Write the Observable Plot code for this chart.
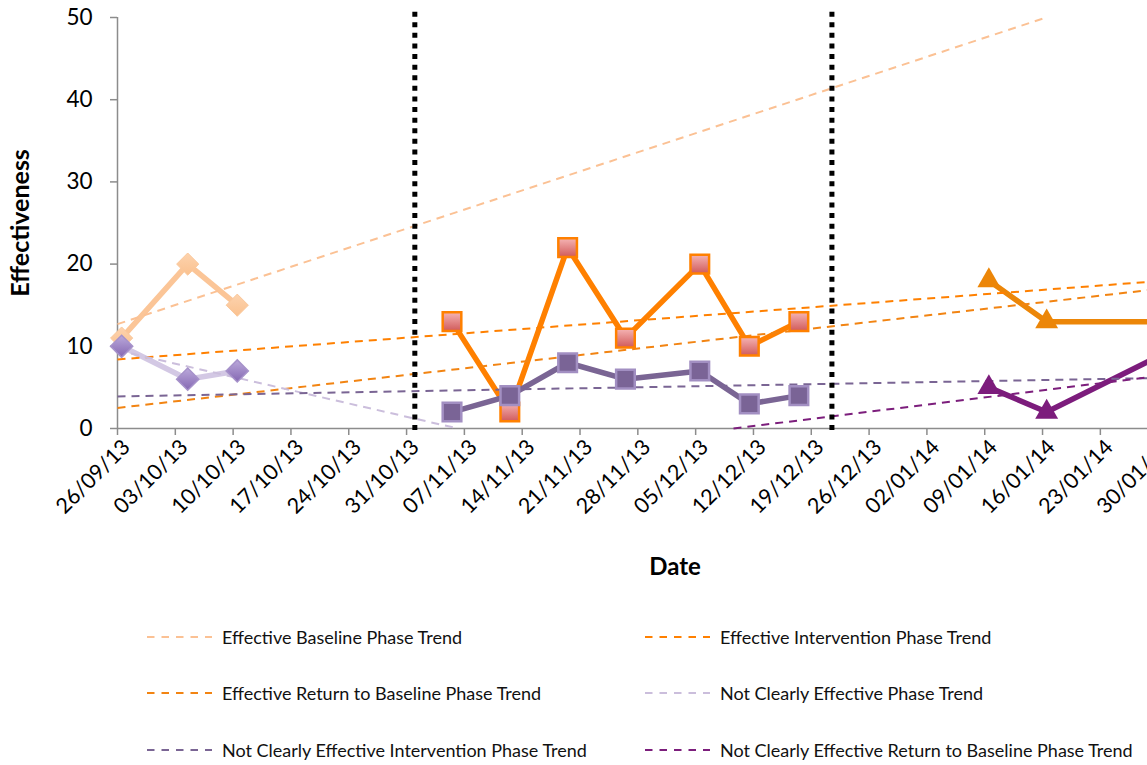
<!DOCTYPE html>
<html><head><meta charset="utf-8">
<script src="https://cdn.jsdelivr.net/npm/d3@7"></script>
<script src="https://cdn.jsdelivr.net/npm/@observablehq/plot@0.6"></script>
<style>
html,body{margin:0;padding:0;background:#fff;overflow:hidden;width:1147px;height:765px;}
#chart{position:absolute;left:0;top:0;width:1247px;}
#chart svg{max-width:none !important;}
.legend-item{position:absolute;display:flex;align-items:center;font-family:Lato, sans-serif;font-size:18px;color:#111;white-space:nowrap;height:20px;}
.legend-item svg{margin-right:10px;}
</style></head><body>
<div id="chart"></div>
<div id="legend"></div>
<script>
// ---- data ----
const baselineDates = ["2013-09-26", "2013-10-04", "2013-10-10"];
const effectiveBaseline = [11, 20, 15];
const notEffectiveBaseline = [10, 6, 7];

const interventionDates = ["2013-11-05", "2013-11-12", "2013-11-19", "2013-11-26", "2013-12-05", "2013-12-11", "2013-12-17"];
const effectiveIntervention = [13, 2, 22, 11, 20, 10, 13];
const notEffectiveIntervention = [2, 4, 8, 6, 7, 3, 4];

const returnDates = ["2014-01-09", "2014-01-16", "2014-01-30"];
const effectiveReturn = [18, 13, 13];
const notEffectiveReturn = [5, 2, 9];

const phaseChangeDates = ["2013-11-01T00:00Z", "2013-12-21T12:00Z"];

const trendNames = [
  "Effective Baseline Phase Trend",
  "Effective Intervention Phase Trend",
  "Effective Return to Baseline Phase Trend",
  "Not Clearly Effective Phase Trend",
  "Not Clearly Effective Intervention Phase Trend",
  "Not Clearly Effective Return to Baseline Phase Trend"
];
const trendColors = ["#FBC194", "#FF8000", "#F28412", "#CBBEDC", "#7A6594", "#7C1E7C"];
const trendStartDates = ["2013-09-26T00:00Z", "2013-09-26T00:00Z", "2013-09-26T00:00Z", "2013-09-26T00:00Z", "2013-09-26T00:00Z", "2013-12-09T14:00Z"];
const trendStartValues = [12.7, 8.4, 2.5, 9.5, 3.9, 0];
const trendEndDates = ["2014-01-16T10:00Z", "2014-02-08T00:00Z", "2014-02-08T00:00Z", "2013-11-06T05:00Z", "2014-02-08T00:00Z", "2014-02-08T00:00Z"];
const trendEndValues = [50, 18.6, 18.0, 0, 6.3, 7.5];

const xTickDates = ["2013-09-26","2013-10-03","2013-10-10","2013-10-17","2013-10-24","2013-10-31","2013-11-07","2013-11-14","2013-11-21","2013-11-28","2013-12-05","2013-12-12","2013-12-19","2013-12-26","2014-01-02","2014-01-09","2014-01-16","2014-01-23","2014-01-30","2014-02-06"];
const yTicks = [0, 10, 20, 30, 40, 50];

// ---- build ----
const noon = d => new Date(d + "T12:00:00Z");
const series = (dates, values) => dates.map((d, i) => ({date: noon(d), value: values[i]}));
const sEffBase = series(baselineDates, effectiveBaseline);
const sNotBase = series(baselineDates, notEffectiveBaseline);
const sEffInt = series(interventionDates, effectiveIntervention);
const sNotInt = series(interventionDates, notEffectiveIntervention);
const sEffRet = series(returnDates, effectiveReturn);
const sNotRet = series(returnDates, notEffectiveReturn);

const trends = trendNames.map((name, i) => ({
  name, color: trendColors[i],
  x1: new Date(trendStartDates[i]), y1: trendStartValues[i],
  x2: new Date(trendEndDates[i]), y2: trendEndValues[i]
}));

const lineW = 5.5;
const marks = [
  Plot.axisY({ticks: yTicks, tickSize: 7, tickPadding: 18, fontSize: 22.5}),
  Plot.axisX({ticks: xTickDates.map(d => new Date(d + "T00:00:00Z")), tickFormat: d3.utcFormat("%d/%m/%y"),
    tickRotate: -45, tickSize: 7, tickPadding: 4, fontSize: 21.5, label: null}),
  Plot.ruleY([0], {stroke: "#8c8c8c", strokeWidth: 1.5}),
  Plot.ruleX([new Date("2013-09-26T00:00:00Z")], {y1: 0, y2: 50, stroke: "#8c8c8c", strokeWidth: 1.5}),
  Plot.line(sEffBase, {x: "date", y: "value", stroke: "#FBC597", strokeWidth: lineW}),
  Plot.line(sNotBase, {x: "date", y: "value", stroke: "#D3C8E4", strokeWidth: lineW}),
  Plot.line(sEffInt, {x: "date", y: "value", stroke: "#FF8000", strokeWidth: lineW}),
  Plot.line(sNotInt, {x: "date", y: "value", stroke: "#7A6594", strokeWidth: lineW}),
  Plot.line(sEffRet, {x: "date", y: "value", stroke: "#EC8608", strokeWidth: lineW}),
  Plot.line(sNotRet, {x: "date", y: "value", stroke: "#7C1C7C", strokeWidth: lineW}),
  ...trends.map(t => Plot.link([t], {x1: "x1", y1: "y1", x2: "x2", y2: "y2", stroke: t.color, strokeWidth: 2, strokeDasharray: "8,6"})),
  Plot.dot(sEffBase, {x: "date", y: "value", symbol: "diamond2", r: 10, fill: "url(#gPeach)", stroke: "#FAC89C", strokeWidth: 1, ariaLabel: "markers"}),
  Plot.dot(sNotBase, {x: "date", y: "value", symbol: "diamond2", r: 10, fill: "url(#gLav)", stroke: "#A692CA", strokeWidth: 1.5, ariaLabel: "markers"}),
  Plot.dot(sEffInt, {x: "date", y: "value", symbol: "square", r: 10.5, fill: "url(#gPink)", stroke: "#FF8000", strokeWidth: 2.5, ariaLabel: "markers"}),
  Plot.dot(sNotInt, {x: "date", y: "value", symbol: "square", r: 10.5, fill: "#7A6496", stroke: "#A28FC2", strokeWidth: 2.5, ariaLabel: "markers"}),
  Plot.dot(sEffRet, {x: "date", y: "value", symbol: "triangle", r: 8.5, fill: "#EC8608", stroke: "none", ariaLabel: "markers"}),
  Plot.dot(sNotRet, {x: "date", y: "value", symbol: "triangle", r: 8.5, fill: "#7C1C7C", stroke: "none", ariaLabel: "markers"}),
  Plot.ruleX(phaseChangeDates.map(d => new Date(d)), {y1: -0.25, y2: 50.75, stroke: "#000", strokeWidth: 5, strokeDasharray: "5,5.6"}),
  Plot.text(["Effectiveness"], {frameAnchor: "left", rotate: -90, dx: -97, textAnchor: "middle", lineAnchor: "middle", fontWeight: "bold", fontSize: 25}),
  Plot.text(["Date"], {frameAnchor: "bottom", dy: 139, lineAnchor: "middle", fontWeight: "bold", fontSize: 24})
];

const chart = Plot.plot({
  width: 1247, height: 600,
  marginLeft: 117, marginRight: 15, marginTop: 17, marginBottom: 172,
  style: {fontFamily: "Lato, sans-serif", color: "#000", background: "#fff", maxWidth: "none"},
  x: {type: "utc", domain: [new Date("2013-09-26T00:00:00Z"), new Date("2014-02-08T00:00:00Z")]},
  y: {domain: [0, 50]},
  marks
});
document.getElementById("chart").appendChild(chart);

// defs: gradients and shadow
const svg = d3.select(chart);
const defs = svg.insert("defs", ":first-child");
const grad = (id, c1, c2) => {
  const g = defs.append("linearGradient").attr("id", id).attr("x1", 0).attr("y1", 0).attr("x2", 0).attr("y2", 1);
  g.append("stop").attr("offset", "0%").attr("stop-color", c1);
  g.append("stop").attr("offset", "100%").attr("stop-color", c2);
};
grad("gPeach", "#FDD3AE", "#FAC18F");
grad("gLav", "#BBA9DB", "#8467B2");
grad("gPink", "#F5B4B4", "#D05A5A");
const f = defs.append("filter").attr("id", "shadow").attr("x", "-50%").attr("y", "-50%").attr("width", "200%").attr("height", "200%");
f.append("feDropShadow").attr("dx", 1.5).attr("dy", 3).attr("stdDeviation", 1.8).attr("flood-color", "#000").attr("flood-opacity", 0.3);
svg.selectAll('g[aria-label="markers"]').attr("filter", "url(#shadow)");
svg.selectAll('g[aria-label="x-axis tick"], g[aria-label="y-axis tick"]').attr("stroke", "#8c8c8c").attr("stroke-width", 1.5);
// nudge rotated x labels so their ends sit just right of each tick, as in the reference
svg.selectAll('g[aria-label="x-axis tick label"]').attr("transform", function() {
  const t = d3.select(this).attr("transform") || "";
  return t + " translate(9,4)";
});

// legend
const legendCols = [147, 645];
const legendRows = [637, 693, 750];
const legend = document.getElementById("legend");
trendNames.forEach((name, i) => {
  const item = document.createElement("div");
  item.className = "legend-item";
  item.style.left = legendCols[i % 2] + "px";
  item.style.top = (legendRows[Math.floor(i / 2)] - 10) + "px";
  item.innerHTML = `<svg width="65" height="20"><line x1="0" y1="10" x2="65" y2="10" stroke="${trendColors[i]}" stroke-width="2" stroke-dasharray="7.5,7"/></svg><span></span>`;
  item.querySelector("span").textContent = name;
  legend.appendChild(item);
});
</script>
</body></html>
